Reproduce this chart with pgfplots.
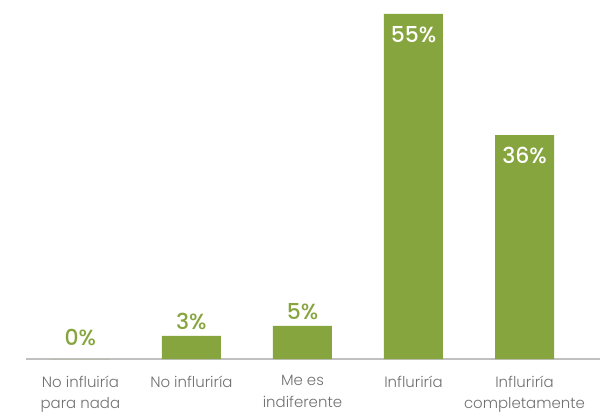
\documentclass[border=0pt]{standalone}
\usepackage{pgfplots}
\pgfplotsset{compat=1.18}
\usepackage{fontspec}
\setmainfont{Poppins}
\newfontfamily\lightfont{Poppins Light}
\newfontfamily\midfont{Poppins Medium}
\definecolor{barg}{HTML}{86A53E}
\definecolor{labg}{HTML}{707070}
\definecolor{lineg}{HTML}{C0C0C0}

\begin{document}
\begin{tikzpicture}
\begin{axis}[
  scale only axis,
  width=574bp, height=345bp,
  xmin=-0.49, xmax=4.68,
  ymin=0, ymax=55,
  clip=false,
  axis x line*=bottom,
  axis y line=none,
  x axis line style={lineg, line width=1.5bp},
  ytick=\empty,
  xtick={0,1,2,3,4},
  xticklabels={{No influiría\\para nada},{No influriría},{Me es\\indiferente},{Influriría},{Influriría\\completamente}},
  xticklabel style={align=center, text=labg, font=\lightfont\fontsize{15}{21.5}\selectfont, yshift=-13bp},
  major tick length=0pt,
  ybar, bar width=59bp, bar shift=0pt,
  nodes near coords style={font=\midfont\fontsize{22}{24}\selectfont},
  point meta=explicit symbolic,
]
% small bars, label above
\addplot[fill=barg, draw=none, nodes near coords,
  nodes near coords style={text=barg, anchor=south, yshift=2bp}]
  coordinates {(1,3.7) [3\%] (2,5.3) [5\%]};
\addplot[fill=barg, draw=none, nodes near coords,
  nodes near coords style={text=barg, anchor=south, yshift=10bp}]
  coordinates {(0,0) [0\%]};
% tall bars, label inside at top
\addplot[fill=barg, draw=none, nodes near coords,
  nodes near coords style={text=white, anchor=north, yshift=-9bp}]
  coordinates {(3,55) [55\%] (4,35.7) [36\%]};
\end{axis}
\pgfresetboundingbox
\path (-26bp,359bp) rectangle (581bp,-57bp);
\end{tikzpicture}
\end{document}
